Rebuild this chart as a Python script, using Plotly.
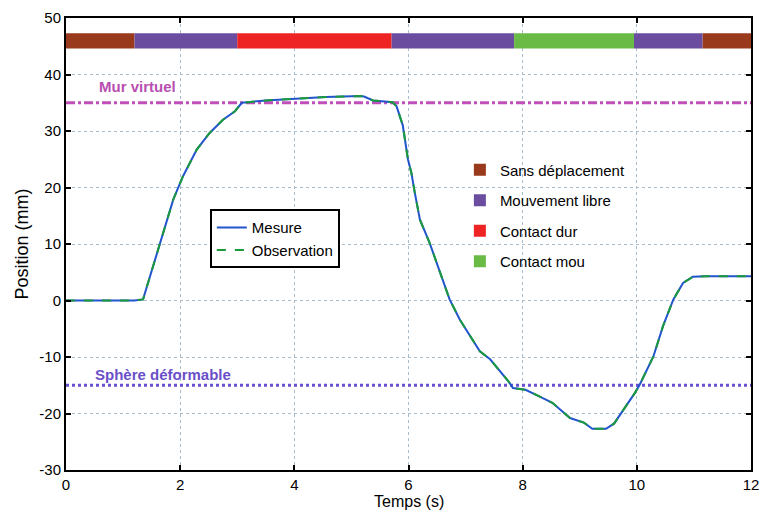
import plotly.graph_objs as go

# trajectoire mesuree (s, mm)
temps = [0, 1.2, 1.35, 1.53, 1.7, 1.88, 2.05, 2.29, 2.52, 2.75, 2.96, 3.08, 3.5, 4.0,
         4.55, 5.15, 5.22, 5.38, 5.72, 5.79, 5.9, 5.99, 6.05, 6.11, 6.2, 6.37, 6.55,
         6.72, 6.9, 7.08, 7.25, 7.43, 7.6, 7.75, 7.83, 7.9, 8.05, 8.3, 8.52, 8.83,
         9.07, 9.22, 9.46, 9.6, 9.69, 9.85, 9.97, 10.05, 10.29, 10.46, 10.64, 10.81,
         10.98, 11.2, 12]
mesure = [0, 0, 0.2, 6.1, 12, 17.9, 22, 26.7, 29.7, 32, 33.5, 35, 35.4, 35.7, 36.0,
          36.2, 36.1, 35.4, 35.1, 34.4, 31, 25, 22.6, 19.1, 14.3, 10.2, 4.9, 0.2, -3.4,
          -6.3, -9, -10.4, -12.5, -14.3, -15.5, -15.6, -15.8, -17, -18.1, -20.8, -21.6,
          -22.7, -22.7, -21.8, -20.5, -18, -16.3, -14.9, -9.9, -4.5, 0.2, 3.1, 4.2, 4.3,
          4.3]
observation = mesure

# phases (debut, fin)
phases = {
    "Sans déplacement": [(0, 1.2), (11.15, 12)],
    "Mouvement libre": [(1.2, 3.0), (5.7, 7.85), (9.95, 11.15)],
    "Contact dur": [(3.0, 5.7)],
    "Contact mou": [(7.85, 9.95)],
}
couleurs = {
    "Sans déplacement": "#9a3a1c",
    "Mouvement libre": "#6b4da0",
    "Contact dur": "#ee2424",
    "Contact mou": "#69bb45",
}

mur_virtuel = 35
sphere = -15

x_ticks = [0, 2, 4, 6, 8, 10, 12]
y_ticks = [-30, -20, -10, 0, 10, 20, 30, 40, 50]

fig = go.Figure()

for i, (nom, segs) in enumerate(phases.items()):
    fig.add_trace(go.Bar(
        y=[45.95] * len(segs),
        x=[b - a for a, b in segs],
        base=[a for a, b in segs],
        orientation='h',
        width=2.7,
        marker=dict(color=couleurs[nom], line=dict(width=0)),
        name=nom,
        legend='legend2',
        legendgroup=str(i),
        hoverinfo='skip',
    ))

fig.add_trace(go.Scatter(x=[0, 12], y=[mur_virtuel] * 2, mode='lines',
                         line=dict(color='#c04fb9', width=3, dash='dashdot'),
                         showlegend=False))
fig.add_trace(go.Scatter(x=[0, 12], y=[sphere] * 2, mode='lines',
                         line=dict(color='#6a4fd0', width=3, dash='dot'),
                         showlegend=False))

fig.add_trace(go.Scatter(x=temps, y=mesure, mode='lines', name='Mesure',
                         line=dict(color='#2255cc', width=2)))
fig.add_trace(go.Scatter(x=temps, y=observation, mode='lines', name='Observation',
                         line=dict(color='#1a9a3a', width=2, dash='dash')))

fig.add_annotation(x=0.55, y=37.9, text='<b>Mur virtuel</b>', showarrow=False,
                   xanchor='left', font=dict(color='#b84fb0', size=15))
fig.add_annotation(x=0.47, y=-13.1, text='<b>Sphère déformable</b>', showarrow=False,
                   xanchor='left', font=dict(color='#6a4fc8', size=15))
# titre de l'axe x
fig.add_annotation(x=0.5, y=-0.07, xref='paper', yref='paper', text='Temps (s)',
                   showarrow=False, yanchor='middle', font=dict(size=16))

axe = dict(showline=True, linecolor='black', linewidth=2, mirror='ticks',
           ticks='inside', ticklen=5, tickcolor='black', tickwidth=2,
           showgrid=True, gridcolor='#a8bccc', griddash='dot', gridwidth=1,
           zeroline=False, tickfont=dict(size=15, color='black'), automargin=False)

fig.update_layout(
    width=763, height=514,
    margin=dict(l=66, r=12, t=18, b=44),
    plot_bgcolor='white', paper_bgcolor='white',
    font=dict(family='Liberation Sans, Arial', color='black', size=15),
    barmode='overlay',
    xaxis=dict(axe, range=[0, 12], tickvals=x_ticks, ticktext=[str(v) for v in x_ticks]),
    yaxis=dict(axe, range=[-30, 50], tickvals=y_ticks, ticktext=[str(v) for v in y_ticks],
               title=dict(text='Position (mm)', standoff=6)),
    legend=dict(x=0.21, y=0.577, xanchor='left', yanchor='top',
                bordercolor='black', borderwidth=2, bgcolor='white',
                font=dict(size=15), tracegroupgap=0),
    legend2=dict(x=0.575, y=0.70, xanchor='left', yanchor='top',
                 bgcolor='rgba(0,0,0,0)', font=dict(size=15),
                 traceorder='grouped', tracegroupgap=8),
)

fig.write_html("out.html", config={'displayModeBar': False},
               post_script="document.body.style.margin='0';")
